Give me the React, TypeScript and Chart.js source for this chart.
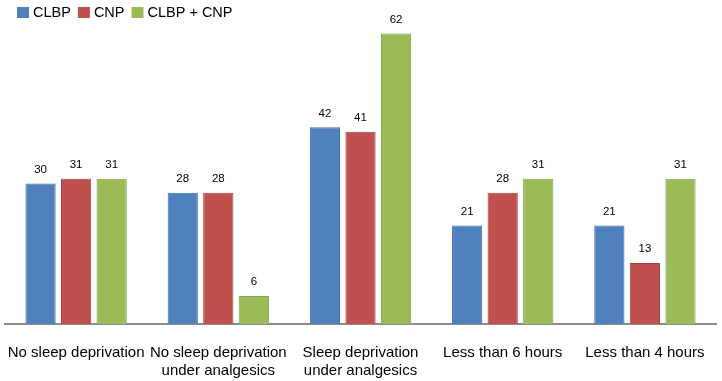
import React, { useEffect, useRef } from "react";
import { Chart, registerables } from "chart.js";

Chart.register(...registerables);

const categories: string[][] = [
  ["No sleep deprivation"],
  ["No sleep deprivation", "under analgesics"],
  ["Sleep deprivation", "under analgesics"],
  ["Less than 6 hours"],
  ["Less than 4 hours"],
];
const seriesNames = ["CLBP", "CNP", "CLBP + CNP"];
const clbp = [30, 28, 42, 21, 21];
const cnp = [31, 28, 41, 28, 13];
const both = [31, 6, 62, 31, 31];
const fills = ["#4F81BD", "#C0504D", "#9BBB59"];
const borders = ["#3F6FA8", "#A64340", "#84A248"];

const FONT = "'Liberation Sans', Arial, sans-serif";

const valueLabels = {
  id: "valueLabels",
  afterDatasetsDraw(chart: any) {
    const ctx = chart.ctx;
    ctx.save();
    ctx.font = `11.5px ${FONT}`;
    ctx.fillStyle = "#000";
    ctx.textAlign = "center";
    ctx.textBaseline = "bottom";
    chart.data.datasets.forEach((ds: any, i: number) => {
      const meta = chart.getDatasetMeta(i);
      meta.data.forEach((bar: any, j: number) => {
        ctx.fillText(String(ds.data[j]), bar.x, bar.y - 8);
      });
    });
    ctx.restore();
  },
};

const customLegend = {
  id: "customLegend",
  afterDraw(chart: any) {
    const ctx = chart.ctx;
    ctx.save();
    ctx.font = `14.5px ${FONT}`;
    ctx.textBaseline = "middle";
    ctx.textAlign = "left";
    let x = 17;
    const boxW = 12;
    const boxH = 11;
    const y = 7;
    chart.data.datasets.forEach((ds: any, i: number) => {
      ctx.fillStyle = fills[i];
      ctx.fillRect(x, y, boxW, boxH);
      x += boxW + 4;
      ctx.fillStyle = "#000";
      ctx.fillText(ds.label, x, y + boxH / 2 + 0.5);
      x += ctx.measureText(ds.label).width + 7;
    });
    ctx.restore();
  },
};

export default function App() {
  const ref = useRef<HTMLCanvasElement>(null);
  useEffect(() => {
    document.body.style.margin = "0";
    const chart = new Chart(ref.current!, {
      type: "bar",
      data: {
        labels: categories,
        datasets: [clbp, cnp, both].map((d, i) => ({
          label: seriesNames[i],
          data: d,
          backgroundColor: fills[i],
          borderColor: borders[i],
          borderWidth: 1,
          categoryPercentage: 0.75,
          barPercentage: 0.85,
        })),
      },
      options: {
        animation: false,
        responsive: true,
        maintainAspectRatio: false,
        layout: { padding: { left: 5, right: 6, top: 24, bottom: 0 } },
        plugins: {
          tooltip: { enabled: false },
          legend: { display: false },
        },
        scales: {
          x: {
            grid: { display: false, drawTicks: false },
            border: { display: true, color: "#8C8C8C", width: 2 },
            ticks: {
              color: "#000",
              padding: 20,
              font: { size: 15, family: FONT },
              maxRotation: 0,
              autoSkip: false,
            },
            afterFit: (scale: any) => {
              scale.paddingLeft = 0;
              scale.paddingRight = 0;
              scale.height = 57;
            },
          },
          y: {
            display: false,
            min: 0,
            max: 64,
          },
        },
      },
      plugins: [valueLabels, customLegend],
    });
    return () => chart.destroy();
  }, []);
  return (
    <div style={{ width: 722, height: 381, position: "relative" }}>
      <canvas ref={ref} />
    </div>
  );
}
